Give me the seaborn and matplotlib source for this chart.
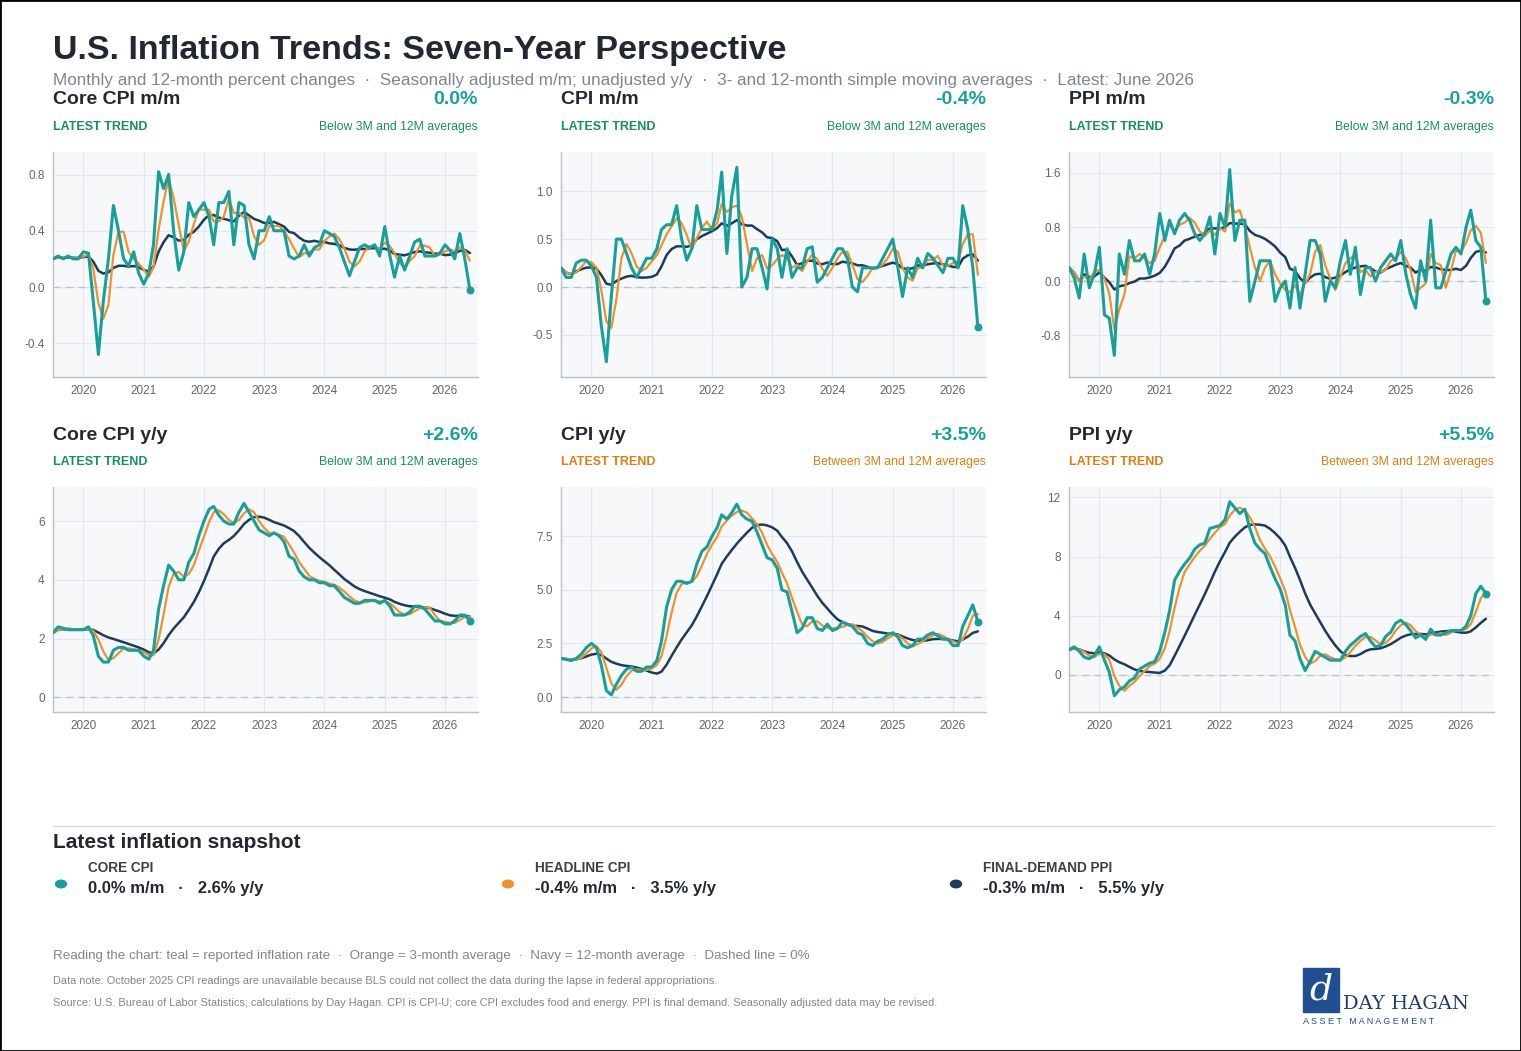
import numpy as np
import pandas as pd
import matplotlib
matplotlib.use("Agg")
import matplotlib.pyplot as plt
import matplotlib.dates as mdates
import seaborn as sns

nan = np.nan
months = pd.date_range("2019-07-01", periods=84, freq="MS")

core_mm = [0.2, 0.22, 0.2, 0.22, 0.2, 0.2,
           0.25, 0.24, -0.1, -0.48, -0.1, 0.2, 0.58, 0.4, 0.2, 0.15, 0.25, 0.1,
           0.02, 0.1, 0.3, 0.82, 0.7, 0.8, 0.4, 0.12, 0.25, 0.6, 0.5, 0.55,
           0.6, 0.5, 0.3, 0.6, 0.6, 0.68, 0.3, 0.6, 0.58, 0.3, 0.2, 0.4,
           0.4, 0.5, 0.4, 0.4, 0.4, 0.22, 0.2, 0.22, 0.3, 0.22, 0.28, 0.3,
           0.4, 0.38, 0.36, 0.28, 0.18, 0.08, 0.18, 0.28, 0.3, 0.28, 0.3, 0.22,
           0.43, 0.22, 0.07, 0.22, 0.12, 0.22, 0.32, 0.34, 0.22, nan, 0.22, 0.24,
           0.3, 0.26, 0.2, 0.38, 0.2, -0.02]
cpi_mm = [0.2, 0.1, 0.1, 0.25, 0.28, 0.28,
          0.22, 0.1, -0.4, -0.78, -0.1, 0.5, 0.5, 0.35, 0.2, 0.1, 0.2, 0.3,
          0.3, 0.4, 0.6, 0.65, 0.65, 0.85, 0.5, 0.28, 0.4, 0.85, 0.6, 0.6,
          0.6, 0.8, 1.2, 0.35, 0.95, 1.25, 0.0, 0.1, 0.4, 0.4, 0.2, -0.02,
          0.5, 0.4, 0.1, 0.4, 0.1, 0.2, 0.2, 0.4, 0.42, 0.05, 0.1, 0.2,
          0.3, 0.4, 0.4, 0.3, 0.0, -0.05, 0.2, 0.2, 0.2, 0.2, 0.3, 0.4,
          0.5, 0.2, -0.1, 0.2, 0.1, 0.3, 0.2, 0.35, 0.3, nan, 0.15, 0.3,
          0.3, 0.2, 0.85, 0.6, 0.2, -0.42]
ppi_mm = [0.2, 0.05, -0.25, 0.4, -0.1, 0.1,
          0.5, -0.5, -0.55, -1.1, 0.4, 0.1, 0.6, 0.3, 0.3, 0.4, 0.1, 0.4,
          1.0, 0.6, 0.9, 0.7, 0.9, 1.0, 0.9, 0.7, 0.6, 0.7, 0.95, 0.4,
          1.0, 0.8, 1.65, 0.6, 0.9, 0.9, -0.3, 0.0, 0.3, 0.3, 0.3, -0.3,
          -0.1, 0.0, -0.4, 0.2, -0.4, 0.1, 0.6, 0.6, 0.4, -0.3, 0.0, -0.1,
          0.3, 0.6, 0.1, 0.5, -0.2, 0.2, 0.2, 0.0, 0.2, 0.3, 0.4, 0.3,
          0.6, 0.1, -0.2, -0.4, 0.3, 0.0, 0.9, -0.1, -0.1, nan, 0.4, 0.5,
          0.4, 0.8, 1.05, 0.6, 0.5, -0.3]
core_yy = [2.2, 2.4, 2.35, 2.3, 2.3, 2.3,
           2.3, 2.4, 2.1, 1.4, 1.2, 1.2, 1.6, 1.7, 1.7, 1.6, 1.6, 1.6,
           1.4, 1.3, 1.6, 3.0, 3.8, 4.5, 4.3, 4.0, 4.0, 4.6, 4.9, 5.5,
           6.0, 6.4, 6.5, 6.2, 6.0, 5.9, 5.9, 6.3, 6.6, 6.3, 6.0, 5.7,
           5.6, 5.5, 5.6, 5.5, 5.3, 4.8, 4.7, 4.3, 4.1, 4.0, 4.0, 3.9,
           3.9, 3.8, 3.8, 3.6, 3.4, 3.3, 3.2, 3.2, 3.3, 3.3, 3.3, 3.2,
           3.3, 3.1, 2.8, 2.8, 2.8, 2.9, 3.1, 3.1, 3.0, nan, 2.6, 2.6,
           2.5, 2.5, 2.6, 2.8, 2.8, 2.6]
cpi_yy = [1.8, 1.75, 1.7, 1.8, 2.0, 2.3,
          2.5, 2.3, 1.5, 0.3, 0.1, 0.6, 1.0, 1.3, 1.4, 1.2, 1.2, 1.4,
          1.4, 1.7, 2.6, 4.2, 5.0, 5.4, 5.4, 5.3, 5.4, 6.2, 6.8, 7.0,
          7.5, 7.9, 8.5, 8.3, 8.6, 9.0, 8.5, 8.3, 8.2, 7.7, 7.1, 6.5,
          6.4, 6.0, 5.0, 4.9, 4.0, 3.0, 3.2, 3.7, 3.7, 3.2, 3.1, 3.4,
          3.1, 3.2, 3.5, 3.4, 3.3, 3.0, 2.9, 2.5, 2.4, 2.6, 2.7, 2.9,
          3.0, 2.8, 2.4, 2.3, 2.4, 2.7, 2.7, 2.9, 3.0, nan, 2.7, 2.7,
          2.4, 2.4, 3.3, 3.8, 4.3, 3.5]
ppi_yy = [1.7, 1.9, 1.6, 1.2, 1.1, 1.3,
          1.9, 1.0, 0.2, -1.4, -1.0, -0.8, -0.4, -0.2, 0.4, 0.6, 0.8, 0.9,
          1.6, 2.9, 4.3, 6.4, 7.0, 7.5, 7.9, 8.5, 8.8, 8.9, 9.9, 10.0,
          10.1, 10.5, 11.7, 11.3, 10.9, 11.2, 9.9, 8.9, 8.5, 8.2, 7.3, 6.5,
          5.8, 4.7, 2.7, 2.3, 1.1, 0.3, 0.9, 1.6, 1.4, 1.2, 1.0, 1.0,
          1.0, 1.6, 2.0, 2.3, 2.6, 2.8, 2.3, 1.9, 2.0, 2.6, 2.9, 3.5,
          3.7, 3.4, 3.0, 2.5, 2.7, 2.4, 3.1, 2.7, 2.7, nan, 3.0, 3.0,
          3.0, 3.3, 4.0, 5.5, 6.0, 5.5]

panels = [
    ("Core CPI m/m", core_mm, "0.0%", "Below 3M and 12M averages", [-0.4, 0.0, 0.4, 0.8], "{:.1f}", (-0.64, 0.96)),
    ("CPI m/m", cpi_mm, "-0.4%", "Below 3M and 12M averages", [-0.5, 0.0, 0.5, 1.0], "{:.1f}", (-0.94, 1.41)),
    ("PPI m/m", ppi_mm, "-0.3%", "Below 3M and 12M averages", [-0.8, 0.0, 0.8, 1.6], "{:.1f}", (-1.42, 1.91)),
    ("Core CPI y/y", core_yy, "+2.6%", "Below 3M and 12M averages", [0, 2, 4, 6], "{:.0f}", (-0.5, 7.16)),
    ("CPI y/y", cpi_yy, "+3.5%", "Between 3M and 12M averages", [0.0, 2.5, 5.0, 7.5], "{:.1f}", (-0.7, 9.8)),
    ("PPI y/y", ppi_yy, "+5.5%", "Between 3M and 12M averages", [0, 4, 8, 12], "{:.0f}", (-2.5, 12.7)),
]

TEAL = "#17a09b"
ORANGE = "#f0912a"
NAVY = "#1f3b5c"
GREEN = "#14905f"
GREY = "#7d8590"
DARK = "#222831"

sns.set_theme(style="white")
plt.rcParams["font.family"] = ["Liberation Sans", "DejaVu Sans"]

W, H = 1521, 1051
fig = plt.figure(figsize=(W / 100, H / 100), dpi=100)


def fx(px):
    return px / W


def fy(py):
    return 1 - py / H


fig.text(fx(53), fy(50), "U.S. Inflation Trends: Seven-Year Perspective", fontsize=24.5, fontweight="bold",
         color=DARK, va="center")
fig.text(fx(53), fy(81), "Monthly and 12-month percent changes  ·  Seasonally adjusted m/m; unadjusted y/y  ·  "
         "3- and 12-month simple moving averages  ·  Latest: June 2026", fontsize=12.3, color=GREY, va="center")

lefts = [53, 561, 1069]
tops = [152, 487]
aw, ah = 425, 225

for i, (name, vals, latest, trend, ticks, fmt, ylim) in enumerate(panels):
    col, row = i % 3, i // 3
    L, T = lefts[col], tops[row]
    ax = fig.add_axes([fx(L), fy(T + ah), fx(aw), ah / H])
    df = pd.DataFrame({"date": months, "val": vals})
    df["ma3"] = df["val"].rolling(3, min_periods=1).mean()
    df["ma12"] = df["val"].rolling(12, min_periods=1).mean()
    ax.set_facecolor("#f6f8fa")
    ax.axhline(0, color="#b8c4d0", lw=1, ls=(0, (5, 4)), zorder=1)
    sns.lineplot(data=df, x="date", y="ma12", ax=ax, color=NAVY, lw=1.8, zorder=3)
    sns.lineplot(data=df, x="date", y="ma3", ax=ax, color=ORANGE, lw=1.6, zorder=4)
    sns.lineplot(data=df, x="date", y="val", ax=ax, color=TEAL, lw=2.2, zorder=5)
    ax.scatter(df["date"].iloc[-1], df["val"].iloc[-1], s=22, color=TEAL, zorder=6)
    ax.set_xlim(pd.Timestamp("2019-07-01"), pd.Timestamp("2026-07-20"))
    ax.set_xticks([pd.Timestamp(f"{y}-01-01") for y in range(2020, 2027)])
    ax.xaxis.set_major_formatter(mdates.DateFormatter("%Y"))
    ax.set_yticks(ticks)
    ax.set_yticklabels([fmt.format(t) for t in ticks])
    ax.set_ylim(*ylim)
    ax.grid(True, color="#e3e8ee", lw=0.8)
    ax.set_axisbelow(True)
    ax.set_xlabel("")
    ax.set_ylabel("")
    ax.tick_params(labelsize=8.5, colors="#5f6670", length=0, pad=6)
    for s in ["top", "right"]:
        ax.spines[s].set_visible(False)
    for s in ["left", "bottom"]:
        ax.spines[s].set_color("#b8c0c8")
        ax.spines[s].set_linewidth(1)

    tcol = GREEN if trend.startswith("Below") else "#e07d10"
    fig.text(fx(L), fy(T - 52), name, fontsize=14, fontweight="bold", color=DARK, va="center")
    fig.text(fx(L + aw), fy(T - 52), latest, fontsize=14, fontweight="bold", color=TEAL, va="center", ha="right")
    fig.text(fx(L), fy(T - 25), "LATEST TREND", fontsize=9, fontweight="bold", color=tcol, va="center")
    fig.text(fx(L + aw), fy(T - 25), trend, fontsize=8.8, color=tcol, va="center", ha="right")

# snapshot section
fig.add_artist(plt.Line2D([fx(53), fx(1494)], [fy(826), fy(826)], color="#d8dde3", lw=1))
fig.text(fx(53), fy(843), "Latest inflation snapshot", fontsize=15, fontweight="bold", color=DARK, va="center")
snap = [(53, TEAL, "CORE CPI", "0.0% m/m   ·   2.6% y/y"),
        (500, ORANGE, "HEADLINE CPI", "-0.4% m/m   ·   3.5% y/y"),
        (948, NAVY, "FINAL-DEMAND PPI", "-0.3% m/m   ·   5.5% y/y")]
for x0, c, lab, txt in snap:
    fig.add_artist(plt.Circle((fx(x0 + 8), fy(884)), 0.0036, transform=fig.transFigure, color=c))
    fig.text(fx(x0 + 35), fy(868), lab, fontsize=9.8, fontweight="bold", color="#3a4049", va="center")
    fig.text(fx(x0 + 35), fy(888), txt, fontsize=12, fontweight="bold", color=DARK, va="center")

fig.text(fx(53), fy(956), "Reading the chart: teal = reported inflation rate  ·  Orange = 3-month average  ·  "
         "Navy = 12-month average  ·  Dashed line = 0%", fontsize=9.6, color=GREY, va="center")
fig.text(fx(53), fy(981), "Data note: October 2025 CPI readings are unavailable because BLS could not collect the "
         "data during the lapse in federal appropriations.", fontsize=7.9, color=GREY, va="center")
fig.text(fx(53), fy(1003), "Source: U.S. Bureau of Labor Statistics; calculations by Day Hagan. CPI is CPI-U; "
         "core CPI excludes food and energy. PPI is final demand. Seasonally adjusted data may be revised.",
         fontsize=7.9, color=GREY, va="center")

# logo
fig.add_artist(plt.Rectangle((fx(1303), fy(1012)), fx(36), 44 / H, transform=fig.transFigure,
                             color="#1f4f8f"))
fig.text(fx(1321), fy(990), "d", fontsize=26, fontstyle="italic", color="white", ha="center", va="center",
         family="DejaVu Serif")
fig.text(fx(1343), fy(1004), "DAY HAGAN", fontsize=14, color="#1f3b6e", va="center", family="DejaVu Serif")
fig.text(fx(1303), fy(1021), "A S S E T   M A N A G E M E N T", fontsize=6.5, color="#1f4f8f", va="center")

fig.add_artist(plt.Rectangle((0, 0), 1, 1, transform=fig.transFigure, fill=False, ec="black", lw=2))
fig.savefig("out.png", dpi=100)
